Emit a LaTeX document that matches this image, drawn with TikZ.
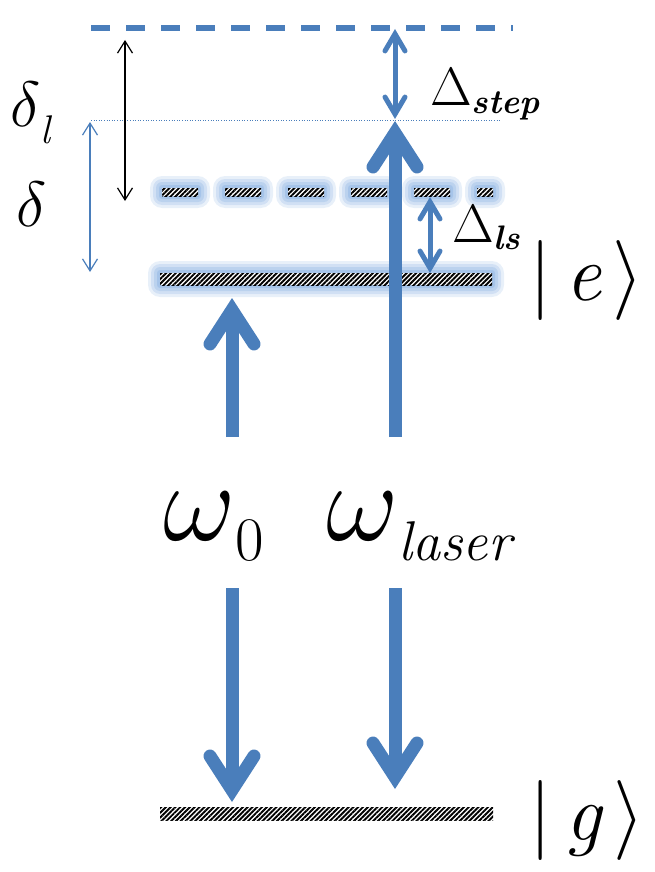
\RequirePackage{fix-cm}
\documentclass[tikz,border=0pt]{standalone}
\usetikzlibrary{arrows.meta, patterns.meta}
\definecolor{levelblue}{HTML}{4A7EBB}
\definecolor{glowblue}{HTML}{8EB4E3}

\tikzset{
  bigbarb/.tip={Straight Barb[length=34pt, width=44pt, line cap=round, line join=miter]},
  smallbarb/.tip={Straight Barb[length=17pt, width=20pt, line cap=round, line join=miter]},
  thinbarb/.tip={Straight Barb[length=12pt, width=15pt]},
  photon/.style={levelblue, line width=13pt},
  gaparrow/.style={levelblue, line width=5pt, {smallbarb}-{smallbarb}},
  hatch/.style={pattern={Lines[angle=45, distance=3.4pt, line width=1.9pt]}},
  lbl/.style={anchor=base west, inner sep=0pt}
}

% hatched energy level with a soft blue glow round it
\newcommand{\glowbar}[4]{%
  \foreach \g/\o in {12/0.2, 9/0.26, 6/0.33, 3/0.45}{
    \fill[glowblue, opacity=\o, rounded corners=\g pt] (#1-\g,#2-\g) rectangle (#3+\g,#4+\g);
  }
  \fill[white] (#1,#2) rectangle (#3,#4);
  \fill[hatch] (#1,#2) rectangle (#3,#4);
}

\begin{document}
\begin{tikzpicture}[x=1pt, y=-1pt]
\useasboundingbox (0,0) rectangle (654,872);

% levels
\draw[levelblue, line width=6pt, dash pattern=on 19pt off 16pt] (91,28) -- (513,28);
\draw[levelblue, line width=1pt, dash pattern=on 1pt off 1.6pt] (91,121) -- (500,121);
\glowbar{160}{273}{492}{285}
\foreach \x in {162,225,288,351,414}{
  \glowbar{\x}{188}{\x+36}{196}
}
\glowbar{477}{188}{493}{196}
\fill[hatch] (160,807) rectangle (493,820);

% end points
\coordinate (stepA) at (395,29);
\coordinate (stepB) at (395,119);
\coordinate (lsA) at (430,197);
\coordinate (lsB) at (430,273);
\coordinate (dlA) at (125,40);
\coordinate (dlB) at (125,201);
\coordinate (dA) at (90,122);
\coordinate (dB) at (90,272);
\coordinate (wzUp0) at (232,437);
\coordinate (wzUp1) at (232,298);
\coordinate (wlUp0) at (395,437);
\coordinate (wlUp1) at (395,121);
\coordinate (wzDn0) at (232,588);
\coordinate (wzDn1) at (232,802);
\coordinate (wlDn0) at (395,588);
\coordinate (wlDn1) at (395,789);

% arrows
\draw[photon, -{bigbarb}] (wzUp0) -- (wzUp1);
\draw[photon, -{bigbarb}] (wlUp0) -- (wlUp1);
\draw[photon, -{bigbarb}] (wzDn0) -- (wzDn1);
\draw[photon, -{bigbarb}] (wlDn0) -- (wlDn1);
\draw[gaparrow] (stepA) -- (stepB);
\draw[gaparrow] (lsA) -- (lsB);
\draw[line width=1.2pt, {thinbarb}-{thinbarb}] (dlA) -- (dlB);
\draw[levelblue, line width=1.2pt, {thinbarb}-{thinbarb}] (dA) -- (dB);

% labels
\node[lbl, font=\fontsize{64}{64}\selectfont] (deltaL) at (10,127)
  {$\delta$\raisebox{-17pt}{\fontsize{40}{40}\selectfont\itshape l}};
\node[lbl, font=\fontsize{64}{64}\selectfont] (delta) at (16,226) {$\delta$};
\node[lbl, font=\fontsize{54}{54}\selectfont] (dStep) at (430,106)
  {$\Delta$\raisebox{-8pt}{\fontsize{34}{34}\selectfont\bfseries\itshape step}};
\node[lbl, font=\fontsize{54}{54}\selectfont] (dLs) at (452,242)
  {$\Delta$\raisebox{-7pt}{\fontsize{34}{34}\selectfont\bfseries\itshape ls}};
\node[lbl, font=\fontsize{112}{112}\selectfont] (wZero) at (163,540)
  {$\omega$\raisebox{-20pt}{\fontsize{62}{62}\selectfont 0}};
\node[lbl, font=\fontsize{112}{112}\selectfont] (wLaser) at (326,540)
  {$\omega$\raisebox{-20pt}{\fontsize{56}{56}\selectfont\itshape laser}};
\node[lbl, font=\fontsize{80}{80}\selectfont] (ketE) at (529,300)
  {|\hspace{0.18em}\textit{e}\hspace{0.12em}$\rangle$};
\node[lbl, font=\fontsize{80}{80}\selectfont] (ketG) at (529,840)
  {|\hspace{0.18em}\textit{g}\hspace{0.12em}$\rangle$};
\end{tikzpicture}
\end{document}
